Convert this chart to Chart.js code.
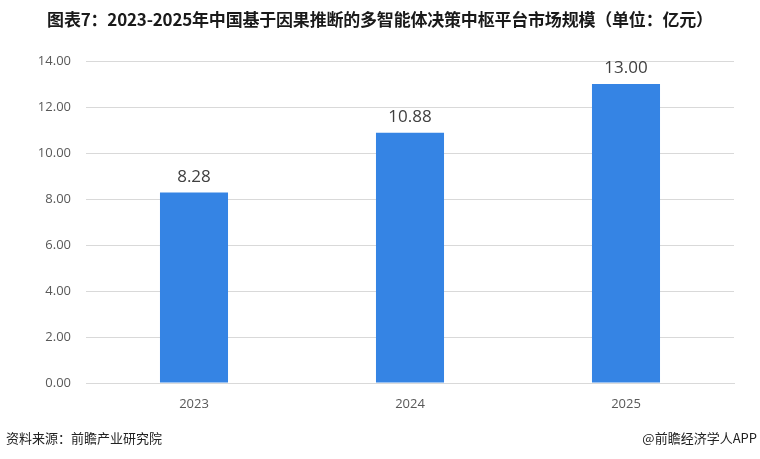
<!DOCTYPE html>
<html><head><meta charset="utf-8">
<script src="https://cdn.jsdelivr.net/npm/chart.js@4/dist/chart.umd.min.js"></script>
<style>
html,body{margin:0;padding:0;background:#fff;}
#wrap{position:relative;width:760px;height:459px;}
#title{position:absolute;left:0;top:6px;width:760px;text-align:center;font-family:"Noto Sans CJK SC";font-weight:bold;font-size:17px;color:#1a1a1a;letter-spacing:-0.2px;}
#src{position:absolute;left:6px;top:428px;font-family:"Noto Sans CJK SC";font-size:13px;color:#222;}
#app{position:absolute;right:3px;top:428px;font-family:"Noto Sans CJK SC";font-size:13px;color:#222;}
canvas{position:absolute;left:0;top:0;}
</style></head>
<body><div id="wrap">
<canvas id="c" width="760" height="459"></canvas>
<div id="title">图表7：2023-2025年中国基于因果推断的多智能体决策中枢平台市场规模（单位：亿元）</div>
<div id="src">资料来源：前瞻产业研究院</div>
<div id="app">@前瞻经济学人APP</div>
</div>
<script>
const categories = ["2023", "2024", "2025"];
const values = [8.28, 10.88, 13.00];
const yTicks = [0, 2, 4, 6, 8, 10, 12, 14];

const labelPlugin = {
  id: 'barLabels',
  afterDatasetsDraw(chart) {
    const ctx = chart.ctx;
    const meta = chart.getDatasetMeta(0);
    ctx.save();
    ctx.font = '17px "Open Sans", "Noto Sans", sans-serif';
    ctx.fillStyle = '#404040';
    ctx.textAlign = 'center';
    ctx.textBaseline = 'bottom';
    meta.data.forEach((bar, i) => {
      ctx.fillText(values[i].toFixed(2), bar.x, bar.y - 7);
    });
    ctx.restore();
  }
};

new Chart(document.getElementById('c'), {
  type: 'bar',
  data: {
    labels: categories,
    datasets: [{
      data: values,
      backgroundColor: '#3584e4',
      borderWidth: 0,
      categoryPercentage: 1,
      barPercentage: 0.315
    }]
  },
  options: {
    responsive: false,
    animation: false,
    layout: { padding: { top: 61, right: 26, left: 0, bottom: 0 } },
    plugins: { legend: { display: false }, tooltip: { enabled: false } },
    scales: {
      x: {
        grid: { display: false, drawTicks: false },
        border: { display: true, color: '#d9d9d9', width: 1 },
        ticks: { color: '#595959', font: { size: 13, family: '"Open Sans", "Noto Sans", sans-serif' }, padding: 13 },
        afterFit(s) { s.height = 76; }
      },
      y: {
        min: 0, max: 14,
        afterBuildTicks(s) { s.ticks = yTicks.map(v => ({ value: v })); },
        grid: { color: '#d9d9d9', drawTicks: false },
        border: { display: false },
        ticks: { color: '#595959', font: { size: 13, family: '"Open Sans", "Noto Sans", sans-serif' }, padding: 15,
          callback: v => Number(v).toFixed(2) },
        afterFit(s) { s.width = 86; }
      }
    }
  },
  plugins: [labelPlugin]
});
</script>
</body></html>
